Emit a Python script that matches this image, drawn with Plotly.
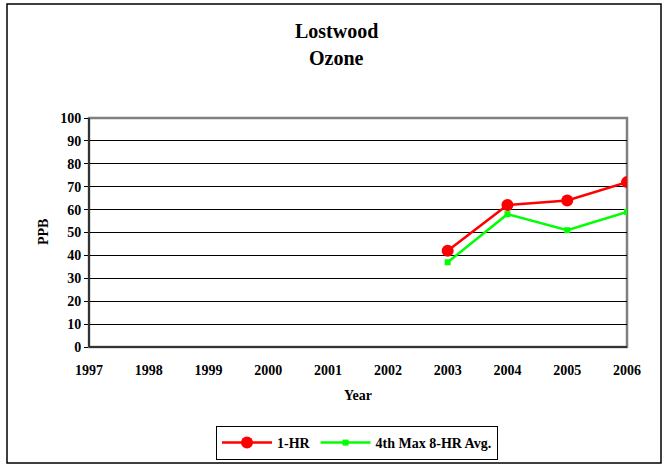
import plotly.graph_objects as go

years = [1997, 1998, 1999, 2000, 2001, 2002, 2003, 2004, 2005, 2006]
data_years = [2003, 2004, 2005, 2006]
one_hr = [42, 62, 64, 72]
eight_hr = [37, 58, 51, 59]
y_ticks = list(range(0, 101, 10))

FONT = "Times New Roman, Liberation Serif, serif"

fig = go.Figure()
fig.add_trace(go.Scatter(
    x=data_years, y=one_hr, name="<b>1-HR</b>", mode="lines+markers",
    line=dict(color="#ff0000", width=2.5),
    marker=dict(symbol="circle", size=12, color="#ff0000"),
))
fig.add_trace(go.Scatter(
    x=data_years, y=eight_hr, name="<b>4th Max 8-HR Avg.</b>", mode="lines+markers",
    line=dict(color="#00ff00", width=2.5),
    marker=dict(symbol="square", size=6, color="#00ff00"),
))

L, R, T, B = 89, 38, 118, 119
W, H = 665, 466
pw, ph = W - L - R, H - T - B

def px(x):
    return (x - L) / pw

def py(y):
    return (H - B - y) / ph

annotations = [
    dict(text="<b>Lostwood</b>", xref="paper", yref="paper", x=px(336), y=py(31),
         xanchor="center", yanchor="middle", showarrow=False,
         font=dict(family=FONT, size=20, color="black")),
    dict(text="<b>Ozone</b>", xref="paper", yref="paper", x=px(336), y=py(58),
         xanchor="center", yanchor="middle", showarrow=False,
         font=dict(family=FONT, size=20, color="black")),
    dict(text="<b>Year</b>", xref="paper", yref="paper", x=px(358), y=py(395),
         xanchor="center", yanchor="middle", showarrow=False,
         font=dict(family=FONT, size=14, color="black")),
    dict(text="<b>PPB</b>", xref="paper", yref="paper", x=px(43), y=py(232),
         xanchor="center", yanchor="middle", showarrow=False, textangle=-90,
         font=dict(family=FONT, size=14, color="black")),
]

fig.update_layout(
    width=W, height=H,
    margin=dict(l=L, r=R, t=T, b=B, autoexpand=False),
    paper_bgcolor="white", plot_bgcolor="white",
    font=dict(family=FONT, size=14, color="black"),
    xaxis=dict(
        range=[1997, 2006], tickmode="array", tickvals=years,
        ticktext=[f"<b>{y}</b>" for y in years],
        showgrid=False, zeroline=False, showline=False, ticks="",
        ticklabelstandoff=13,
        fixedrange=True,
    ),
    yaxis=dict(
        range=[0, 100], tickmode="array", tickvals=y_ticks,
        ticktext=[f"<b>{v}</b>" for v in y_ticks],
        showgrid=True, gridcolor="black", gridwidth=1, zeroline=False,
        showline=False, ticks="outside", ticklen=4, tickcolor="black",
        fixedrange=True,
    ),
    legend=dict(
        orientation="h", xref="container", yref="container",
        x=357 / W, xanchor="center", y=1 - 426 / H, yanchor="top",
        bordercolor="black", borderwidth=1, bgcolor="white",
        font=dict(family=FONT, size=14), traceorder="normal",
        itemwidth=50, tracegroupgap=0,
    ),
    showlegend=True,
    annotations=annotations,
)

shapes = [
    dict(type="rect", xref="paper", yref="paper", x0=px(7), x1=px(661), y0=py(463), y1=py(4),
         line=dict(color="black", width=1.5), fillcolor="rgba(0,0,0,0)", layer="below"),
    dict(type="rect", xref="paper", yref="paper", x0=0, x1=1, y0=0, y1=1,
         line=dict(color="#808080", width=2.5), fillcolor="rgba(0,0,0,0)", layer="below"),
    dict(type="line", xref="paper", yref="paper", x0=0, x1=0, y0=0, y1=1,
         line=dict(color="#333333", width=2)),
    dict(type="line", xref="paper", yref="paper", x0=0, x1=1, y0=0, y1=0,
         line=dict(color="#333333", width=2)),
]
fig.update_layout(shapes=shapes)

fig.write_html("out.html", config={"displayModeBar": False},
               post_script="document.body.style.margin='0';")
